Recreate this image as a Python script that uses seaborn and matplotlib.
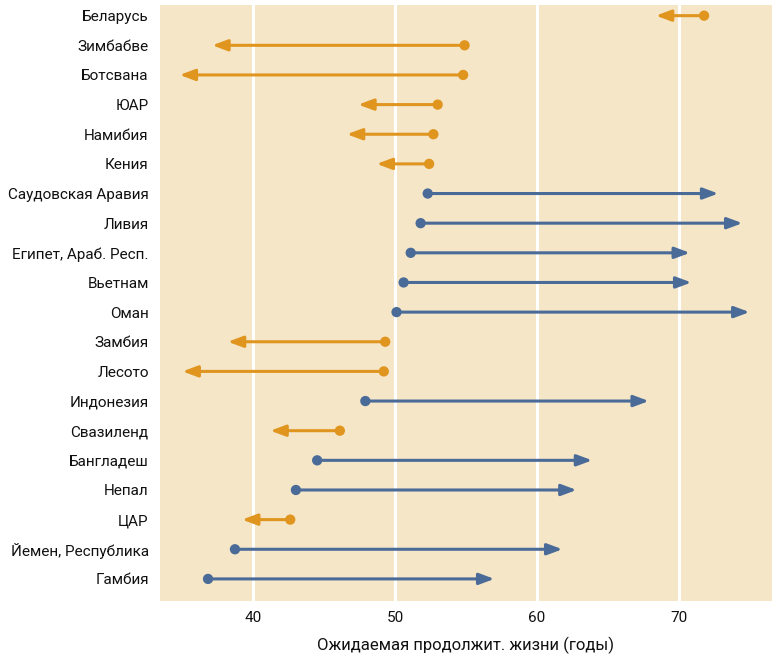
import matplotlib
matplotlib.use("Agg")
import matplotlib.pyplot as plt
import seaborn as sns
import pandas as pd

# Life expectancy: first year value (dot) and last year value (arrow tip)
countries = ["Беларусь", "Зимбабве", "Ботсвана", "ЮАР", "Намибия", "Кения",
             "Саудовская Аравия", "Ливия", "Египет, Араб. Респ.", "Вьетнам",
             "Оман", "Замбия", "Лесото", "Индонезия", "Свазиленд", "Бангладеш",
             "Непал", "ЦАР", "Йемен, Республика", "Гамбия"]
start_vals = [71.8, 54.9, 54.8, 53.0, 52.7, 52.4, 52.3, 51.8, 51.1, 50.6,
              50.1, 49.3, 49.2, 47.9, 46.1, 44.5, 43.0, 42.6, 38.7, 36.8]
end_vals = [68.4, 37.1, 34.8, 47.4, 46.6, 48.7, 72.8, 74.5, 70.8, 70.9,
            75.0, 38.2, 35.0, 67.9, 41.2, 63.9, 62.8, 39.2, 61.8, 57.0]

df = pd.DataFrame({"country": countries, "start": start_vals, "end": end_vals})
df["pos"] = range(len(df))
df["trend"] = ["down" if e < s else "up" for s, e in zip(df["start"], df["end"])]

orange = "#e0951f"
blue = "#4a6b98"
palette = {"down": orange, "up": blue}

sns.set_theme(style="white")
plt.rcParams["font.family"] = ["Liberation Sans Narrow", "Roboto", "DejaVu Sans"]

fig = plt.figure(figsize=(7.76, 6.61), dpi=100)
ax = fig.add_axes([0.206, 0.091, 0.789, 0.901])
ax.set_facecolor("#f5e6c8")

# arrows from start to end value
for _, r in df.iterrows():
    ax.annotate("", xy=(r["end"], r["pos"]), xytext=(r["start"], r["pos"]),
                arrowprops=dict(arrowstyle="-|>,head_length=0.75,head_width=0.28",
                                color=palette[r["trend"]], lw=2.2,
                                shrinkA=0, shrinkB=0), zorder=3)

sns.scatterplot(data=df, x="start", y="pos", hue="trend", palette=palette,
                s=55, edgecolor="none", legend=False, ax=ax, zorder=4)

ax.set_xlim(33.4, 76.6)
ax.set_ylim(len(df) - 0.26, -0.35)
ax.set_xticks([40, 50, 60, 70])
ax.set_yticks(df["pos"])
ax.set_yticklabels(df["country"])
ax.grid(axis="x", color="white", lw=2.2)
ax.set_axisbelow(True)
for s in ax.spines.values():
    s.set_visible(False)
ax.tick_params(axis="both", length=0, labelsize=11, colors="#111111")
ax.tick_params(axis="y", pad=8)
ax.tick_params(axis="x", pad=7)
ax.set_xlabel("Ожидаемая продолжит. жизни (годы)", fontsize=12, labelpad=9, color="#111111")
ax.set_ylabel("")

fig.savefig("out.png", dpi=100)
